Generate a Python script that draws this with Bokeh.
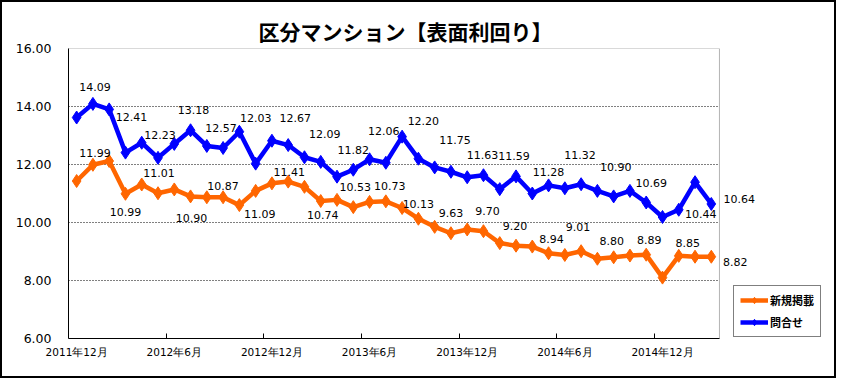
from bokeh.plotting import figure
from bokeh.models import (ColumnDataSource, FixedTicker, NumeralTickFormatter,
                          LabelSet, Legend, LegendItem, Range1d, BoxAnnotation)
from bokeh.core.properties import value
from bokeh.embed import file_html
from bokeh.resources import INLINE

# ---------------- data ----------------
months = [
    "2011年12月",
    "2012年1月", "2012年2月", "2012年3月", "2012年4月", "2012年5月", "2012年6月",
    "2012年7月", "2012年8月", "2012年9月", "2012年10月", "2012年11月", "2012年12月",
    "2013年1月", "2013年2月", "2013年3月", "2013年4月", "2013年5月", "2013年6月",
    "2013年7月", "2013年8月", "2013年9月", "2013年10月", "2013年11月", "2013年12月",
    "2014年1月", "2014年2月", "2014年3月", "2014年4月", "2014年5月", "2014年6月",
    "2014年7月", "2014年8月", "2014年9月", "2014年10月", "2014年11月", "2014年12月",
    "2015年1月", "2015年2月", "2015年3月",
]

# 新規掲載 (orange)
new_listing = [
    11.43, 11.99, 12.12, 10.99, 11.31, 11.01, 11.14, 10.90, 10.87, 10.87,
    10.60, 11.09, 11.35, 11.41, 11.23, 10.74, 10.78, 10.53, 10.71, 10.73,
    10.50, 10.13, 9.85, 9.63, 9.76, 9.70, 9.29, 9.20, 9.17, 8.94,
    8.88, 9.01, 8.75, 8.80, 8.86, 8.89, 8.10, 8.85, 8.82, 8.82,
]

# 問合せ (blue)
inquiry = [
    13.62, 14.09, 13.90, 12.41, 12.75, 12.23, 12.71, 13.18, 12.64, 12.57,
    13.13, 12.03, 12.82, 12.67, 12.25, 12.09, 11.58, 11.82, 12.18, 12.06,
    12.96, 12.20, 11.90, 11.75, 11.56, 11.63, 11.15, 11.59, 11.00, 11.28,
    11.18, 11.32, 11.09, 10.90, 11.09, 10.69, 10.19, 10.44, 11.39, 10.64,
]

y_ticks = [6, 8, 10, 12, 14, 16]
grid_ticks = [8, 10, 12, 14]
label_step = 6          # one axis label every 6 months
value_label_start = 1   # data labels on every second point
value_label_step = 2

# label placement offsets (screen px, right / down), styling only
inq_dx = [2, 6, 2, 3, -2, 0, 7, 4, 0, -2, 5, 4, -1, -2, 0, -1, 2, 5, 22, 28]
inq_dy = [-17, -36, -23, -20, -20, -46, -27, -28, -20, -32, -38, -32, -20, -20, -13, -29, -29, -19, 4, -5]
new_dx = [2, 0, 1, 1, 0, 4, 1, 2, 2, 4, 0, 0, 4, -1, 3, -3, -2, 3, 9, 24]
new_dy = [-12, 18, -20, 22, -11, 23, -10, 14, -20, -15, -15, -20, -20, -20, -14, -24, -16, -15, -13, 5]

ORANGE = "#FF6600"
BLUE = "#0000FF"
NUM_FONT = "DejaVu Sans"
JP_FONT = "Noto Sans CJK JP"

# ---------------- figure ----------------
n = len(months)
x = list(range(n))
x_start = -0.5
x_stop = n - 0.5
x_extra = 7.07          # blank room right of the plot area (for legend / end labels)

p = figure(width=836, height=378, output_backend="svg", toolbar_location=None,
           x_range=Range1d(x_start, x_stop + x_extra),
           y_range=Range1d(y_ticks[0], y_ticks[-1]),
           min_border_left=66, min_border_right=4, min_border_top=46,
           min_border_bottom=42)
p.styles = {"border": "2px solid black"}

p.title.text = "区分マンション【表面利回り】"
p.title.text_font = JP_FONT
p.title.text_font_size = "21px"
p.title.text_font_style = "bold"
p.title.text_color = "black"
p.title.align = "left"
p.title.offset = 190
p.title.standoff = 6

p.outline_line_color = None
p.background_fill_color = "white"
p.border_fill_color = "white"

# plot-area border
p.add_layout(BoxAnnotation(left=x_start, right=x_stop, bottom=y_ticks[0], top=y_ticks[-1],
                           fill_alpha=0, line_color="black", line_width=1))

# y axis
p.yaxis.ticker = FixedTicker(ticks=y_ticks)
p.yaxis.formatter = NumeralTickFormatter(format="0.00")
p.yaxis.major_tick_in = 0
p.yaxis.major_tick_out = 0
p.yaxis.minor_tick_in = 0
p.yaxis.minor_tick_out = 0
p.yaxis.major_label_standoff = 17
p.yaxis.major_label_text_font = NUM_FONT
p.yaxis.major_label_text_font_size = "12.5px"
p.yaxis.major_label_text_color = "black"
p.yaxis.axis_line_color = "black"

# x axis
label_ticks = list(range(0, n, label_step))
p.xaxis.bounds = (x_start, x_stop)
p.xaxis.ticker = FixedTicker(ticks=label_ticks,
                             minor_ticks=[t - 0.5 for t in label_ticks[1:]])
p.xaxis.major_label_overrides = {t: months[t] for t in label_ticks}
p.xaxis.major_tick_in = 0
p.xaxis.major_tick_out = 0
p.xaxis.minor_tick_in = 5
p.xaxis.minor_tick_out = 0
p.xaxis.minor_tick_line_color = "black"
p.xaxis.major_label_standoff = 7
p.xaxis.major_label_text_font = NUM_FONT
p.xaxis.major_label_text_font_size = "10.5px"
p.xaxis.major_label_text_color = "black"
p.xaxis.axis_line_color = "black"

# grid (dotted, limited to the plot area)
p.xgrid.visible = False
p.ygrid.visible = False
p.segment(x0=[x_start] * len(grid_ticks), x1=[x_stop] * len(grid_ticks),
          y0=grid_ticks, y1=grid_ticks, line_color="black", line_width=1,
          line_dash="1 2")

# series
ol = p.line(x, new_listing, line_color=ORANGE, line_width=4.5)
osc = p.scatter(x, new_listing, marker="diamond", size=13, color=ORANGE)
bl = p.line(x, inquiry, line_color=BLUE, line_width=4.5)
bsc = p.scatter(x, inquiry, marker="diamond", size=13, color=BLUE)

# data labels
lab_idx = list(range(value_label_start, n, value_label_step))


def add_labels(values, dx, dy):
    src = ColumnDataSource(dict(
        x=lab_idx,
        y=[values[i] for i in lab_idx],
        text=[f"{values[i]:.2f}" for i in lab_idx],
        dx=dx,
        dy=[-d for d in dy],
    ))
    p.add_layout(LabelSet(x="x", y="y", text="text", source=src,
                          x_offset="dx", y_offset="dy",
                          text_align="center", text_baseline="middle",
                          text_font=value(NUM_FONT), text_font_size=value("11px"),
                          text_color="black"))


add_labels(inquiry, inq_dx, inq_dy)
add_labels(new_listing, new_dx, new_dy)

# legend
legend = Legend(items=[LegendItem(label="新規掲載", renderers=[ol, osc]),
                       LegendItem(label="問合せ", renderers=[bl, bsc])],
                location=(665, 1))
legend.border_line_color = "black"
legend.border_line_width = 1
legend.background_fill_color = "white"
legend.background_fill_alpha = 1.0
legend.label_text_font = JP_FONT
legend.label_text_font_size = "11px"
legend.label_text_font_style = "bold"
legend.label_text_color = "black"
legend.glyph_width = 28
legend.glyph_height = 16
legend.label_height = 16
legend.label_standoff = 2
legend.spacing = 6
legend.padding = 6
legend.margin = 0
p.add_layout(legend)

open("out.html", "w").write(file_html(p, INLINE))
